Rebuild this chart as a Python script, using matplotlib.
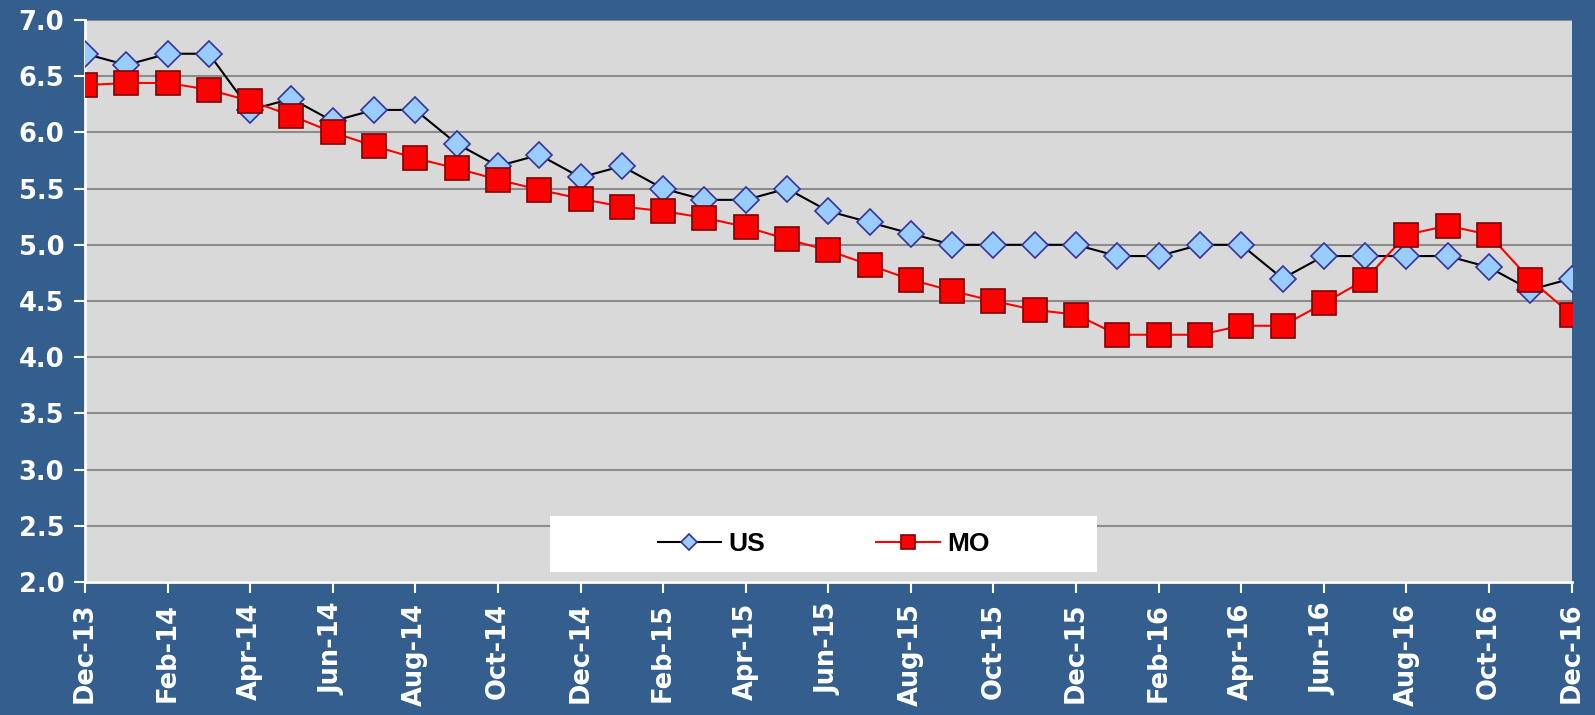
import matplotlib
matplotlib.use("Agg")
import matplotlib.pyplot as plt
from matplotlib.patches import Rectangle

# monthly data, Dec-13 .. Dec-16
months = ["Dec-13", "Jan-14", "Feb-14", "Mar-14", "Apr-14", "May-14", "Jun-14",
          "Jul-14", "Aug-14", "Sep-14", "Oct-14", "Nov-14", "Dec-14", "Jan-15",
          "Feb-15", "Mar-15", "Apr-15", "May-15", "Jun-15", "Jul-15", "Aug-15",
          "Sep-15", "Oct-15", "Nov-15", "Dec-15", "Jan-16", "Feb-16", "Mar-16",
          "Apr-16", "May-16", "Jun-16", "Jul-16", "Aug-16", "Sep-16", "Oct-16",
          "Nov-16", "Dec-16"]

us = [6.7, 6.6, 6.7, 6.7, 6.2, 6.3, 6.1, 6.2, 6.2, 5.9, 5.7, 5.8, 5.6, 5.7,
      5.5, 5.4, 5.4, 5.5, 5.3, 5.2, 5.1, 5.0, 5.0, 5.0, 5.0, 4.9, 4.9, 5.0,
      5.0, 4.7, 4.9, 4.9, 4.9, 4.9, 4.8, 4.6, 4.7]

mo = [6.42, 6.44, 6.44, 6.38, 6.28, 6.15, 6.00, 5.88, 5.77, 5.68, 5.58, 5.49,
      5.41, 5.34, 5.30, 5.24, 5.16, 5.05, 4.95, 4.82, 4.69, 4.59, 4.50, 4.42,
      4.38, 4.20, 4.20, 4.20, 4.28, 4.28, 4.48, 4.69, 5.09, 5.17, 5.09, 4.69,
      4.38]

bg = "#345e8e"
fnt = "Liberation Sans"

fig = plt.figure(figsize=(15.95, 7.15), dpi=100, facecolor=bg)
ax = fig.add_axes([0.0533, 0.186, 0.932, 0.786])
ax.set_facecolor("#d9d9d9")

x = list(range(len(months)))
ax.plot(x, us, color="black", lw=1.5, marker="D", ms=13.5,
        markerfacecolor="#99ccff", markeredgecolor="#333399", markeredgewidth=1.2,
        label="US", zorder=3)
ax.plot(x, mo, color="red", lw=1.5, marker="s", ms=17,
        markerfacecolor="#ff0000", markeredgecolor="#800000", markeredgewidth=1.2,
        label="MO", zorder=4)

ax.set_xlim(0, len(months) - 1)
ax.set_ylim(2.0, 7.0)
ax.set_yticks([2.0 + 0.5 * i for i in range(11)])
ax.set_yticklabels([f"{2.0 + 0.5 * i:.1f}" for i in range(11)])
ax.set_xticks(x[::2])
ax.set_xticklabels(months[::2], rotation=90)

ax.grid(axis="y", color="#8c8c8c", lw=1.5, zorder=0)
ax.set_axisbelow(True)

for s in ["top", "right"]:
    ax.spines[s].set_visible(False)
for s in ["left", "bottom"]:
    ax.spines[s].set_color("white")
    ax.spines[s].set_linewidth(2)

ax.tick_params(colors="white", length=8, width=1.5, pad=7)
for lab in ax.get_xticklabels() + ax.get_yticklabels():
    lab.set_fontfamily("DejaVu Sans")
    lab.set_fontweight("bold")
    lab.set_fontsize(18.5)
    lab.set_color("white")

# white legend box
ax.add_patch(Rectangle((0.313, 0.018), 0.368, 0.099, transform=ax.transAxes,
                       facecolor="white", edgecolor="none", zorder=5))
leg = ax.legend(loc="center", bbox_to_anchor=(0.497, 0.0675), ncol=2,
                frameon=False, handlelength=2.4, handletextpad=0.3,
                columnspacing=4.2, markerscale=0.6,
                prop={"family": fnt, "weight": "bold", "size": 19})
leg.set_zorder(6)

fig.savefig("out.png", dpi=100, facecolor=bg)
